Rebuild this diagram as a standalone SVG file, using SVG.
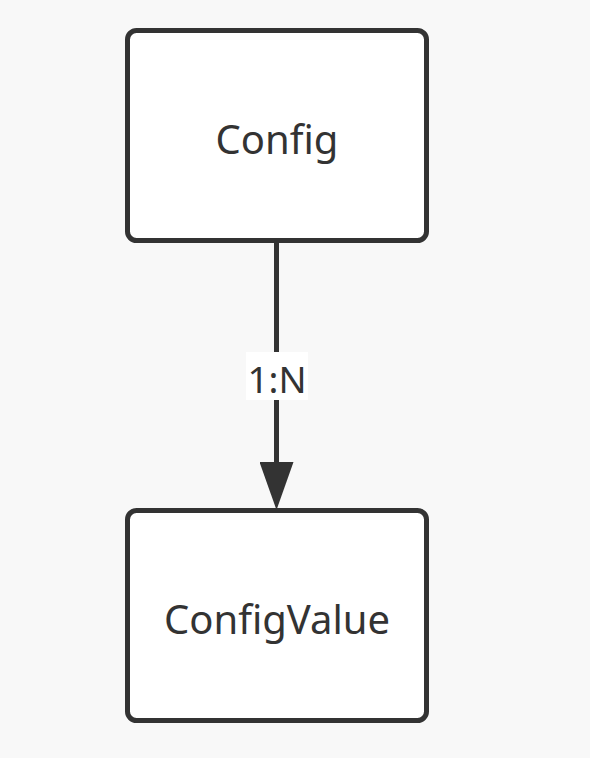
<svg xmlns="http://www.w3.org/2000/svg" width="590" height="758" viewBox="0 0 590 758">
<style>
.box{fill:#ffffff;stroke:#333333;stroke-width:5}
.t{font-family:"Noto Sans","Open Sans",sans-serif;font-size:40px;fill:#333333;text-anchor:middle}
.edge{stroke:#333333;stroke-width:5;fill:none}
</style>
<defs>
<marker id="arr" markerUnits="userSpaceOnUse" markerWidth="48" markerHeight="34" refX="0" refY="17" orient="auto" viewBox="0 0 48 34">
<path d="M0,0 L48,17 L0,34 Z" fill="#333333"/>
</marker>
</defs>
<rect width="590" height="758" fill="#f8f8f8"/>
<g id="edges">
<line class="edge" x1="276.5" y1="243" x2="276.5" y2="462" marker-end="url(#arr)"/>
<rect x="246" y="352" width="62" height="48" fill="#ffffff"/>
<text class="t" x="277" y="393" style="font-size:37px">1:N</text>
</g>
<g id="config">
<rect class="box" x="127.5" y="30.5" width="299" height="210" rx="9"/>
<text class="t" x="277" y="154">Config</text>
</g>
<g id="configvalue">
<rect class="box" x="127.5" y="510.5" width="299" height="210" rx="9"/>
<text class="t" x="277" y="634">ConfigValue</text>
</g>
</svg>
